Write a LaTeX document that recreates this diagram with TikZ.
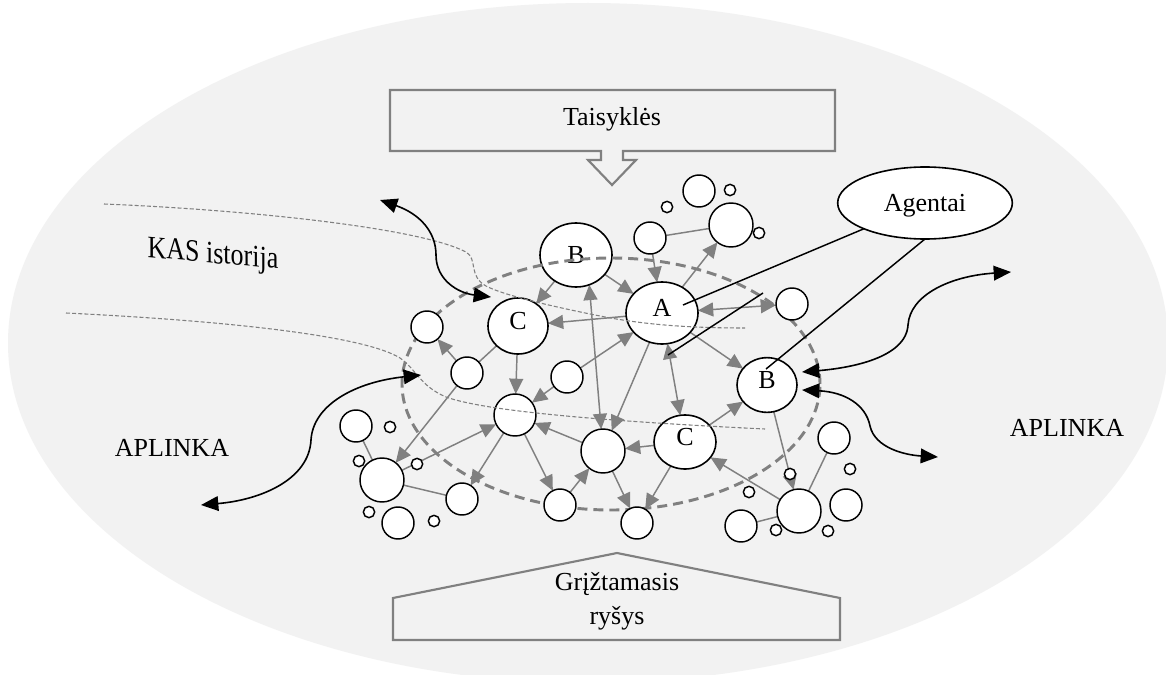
\documentclass[tikz,border=0pt]{standalone}
\usepackage{fontspec}
\setmainfont{Liberation Serif}
\usetikzlibrary{arrows.meta,shapes.geometric}
\pgfdeclarelayer{bg}
\pgfdeclarelayer{edgelayer}
\pgfdeclarelayer{labl}
\pgfdeclarelayer{ring}
\pgfdeclarelayer{fg}
\pgfsetlayers{bg,edgelayer,labl,ring,main,fg}
\definecolor{field}{HTML}{F2F2F2}
\definecolor{linkgray}{HTML}{808080}
\begin{document}
\begin{tikzpicture}[x=0.75pt,y=-0.75pt,
  txt/.style={font=\fontsize{19.5}{25.5}\selectfont, inner sep=0pt},
  agent/.style={ellipse, draw=black, fill=white, line width=1.2pt, inner sep=0pt, outer sep=0pt,
                font=\fontsize{19.5}{22}\selectfont},
  lowtxt/.style={text height=8pt, text depth=2.5pt},
  bubble/.style={circle, draw=black, fill=white, line width=1.1pt, inner sep=0pt, outer sep=0pt},
  sm/.style={bubble, minimum size=8.5pt},
  md/.style={bubble, minimum size=24pt},
  lg/.style={bubble, minimum size=33pt},
  frame/.style={draw=linkgray, line width=1.6pt, line join=miter},
  plain/.style={draw=linkgray, line width=1.1pt},
  arr/.style={plain, -{Triangle[length=11.5pt,width=10.5pt]}},
  darr/.style={plain, {Triangle[length=11.5pt,width=10.5pt]}-{Triangle[length=11.5pt,width=10.5pt]}},
  flow/.style={draw=black, line width=1.2pt, {Triangle[length=13pt,width=11pt]}-{Triangle[length=13pt,width=11pt]}},
  pointer/.style={draw=black, line width=1.1pt},
  ringline/.style={draw=linkgray, line width=2.2pt, dash pattern=on 7.5pt off 4.5pt},
  trail/.style={draw=linkgray, line width=0.8pt, dash pattern=on 3pt off 1.6pt}]
\useasboundingbox (0,0) rectangle (1166,674);

% background field and the two framing shapes
\begin{pgfonlayer}{bg}
  \fill[white] (0,0) rectangle (1166,674);
  \begin{scope}
    \clip (0,0) rectangle (1166,674);
    \fill[field] (588,343) ellipse [x radius=435pt, y radius=255pt];
  \end{scope}
  \draw[frame] (390,90) -- (835,90) -- (835,151) -- (623,151) -- (623,160) -- (636,160)
     -- (612,185) -- (588,160) -- (601,160) -- (601,151) -- (390,151) -- cycle;
  \draw[frame] (393,640) -- (393,598) -- (617,553) -- (840,598) -- (840,640) -- cycle;
\end{pgfonlayer}

% texts
\node[txt] (rules) at (612,119) {Taisyklės};
\node[txt, align=center] (feedback) at (617,601) {Grįžtamasis\\ryšys};
\node[txt] (envL) at (172,448) {APLINKA};
\node[txt] (envR) at (1067,428) {APLINKA};
\node[txt, transform shape, yslant=-0.09, yscale=1.2] (hist) at (213,256) {KAS istorija};

% labelled agents
\begin{pgfonlayer}{labl}
  \node[agent, minimum width=54pt, minimum height=48pt] (Bt) at (576,255) {B};
  \node[agent, lowtxt, minimum width=54pt, minimum height=46.5pt] (A) at (662,313) {A};
  \node[agent, lowtxt, minimum width=45pt, minimum height=42pt] (Cu) at (518,326) {C};
  \node[agent, lowtxt, minimum width=45pt, minimum height=41pt] (Br) at (767,385) {B};
  \node[agent, lowtxt, minimum width=46.5pt, minimum height=40.5pt] (Cl) at (685,442) {C};
\end{pgfonlayer}

% system boundary
\begin{pgfonlayer}{ring}
  \draw[ringline] (611,384) ellipse [x radius=156.75pt, y radius=94.5pt];
\end{pgfonlayer}

% unlabelled agents
\node[md] (m1) at (699,191) {};
\node[md] (m2) at (650,238) {};
\node[md] (m3) at (792,304) {};
\node[md] (m4) at (427,327) {};
\node[md] (m5) at (467,373) {};
\node[md] (m6) at (567,377) {};
\node[md] (m7) at (356,426) {};
\node[md] (m8) at (462,499) {};
\node[md] (m9) at (398,523) {};
\node[md] (m10) at (560,505) {};
\node[md] (m11) at (637,523) {};
\node[md] (m12) at (834,438) {};
\node[md] (m13) at (846,505) {};
\node[md] (m14) at (741,526) {};
\node[lg] (L1) at (731,225) {};
\node[lg, minimum size=31.5pt] (L2) at (515,415) {};
\node[lg] (L3) at (603,451) {};
\node[lg] (L4) at (382,480) {};
\node[lg] (L5) at (799,511) {};
\node[sm] (s1) at (730,190) {};
\node[sm] (s2) at (667,207) {};
\node[sm] (s3) at (759,233) {};
\node[sm] (s4) at (390,427) {};
\node[sm] (s5) at (359,461) {};
\node[sm] (s6) at (417,464) {};
\node[sm] (s7) at (369,512) {};
\node[sm] (s8) at (434,521) {};
\node[sm] (s9) at (790,474) {};
\node[sm] (s10) at (850,469) {};
\node[sm] (s11) at (749,492) {};
\node[sm] (s12) at (776,530) {};
\node[sm] (s13) at (828,531) {};

% interactions between agents
\begin{pgfonlayer}{edgelayer}
  \draw[arr] (Bt) -- (Cu);
  \draw[arr] (Bt) -- (A);
  \draw[darr] (Bt.-66) -- (L3);
  \draw[arr] (A) -- (Cu);
  \draw[arr] (m2) -- (A);
  \draw[arr] (A) -- (L1);
  \draw[plain] (m2) -- (L1);
  \draw[darr] (A) -- (m3);
  \draw[arr] (A) -- (Br);
  \draw[darr] (A) -- (Cl);
  \draw[arr] (A) -- (L3);
  \draw[arr] (Cl) -- (L3);
  \draw[arr] (Cl) -- (Br);
  \draw[arr] (Br) -- (L5);
  \draw[arr] (L5) -- (Cl);
  \draw[plain] (L5) -- (m12);
  \draw[plain] (L5) -- (m14);
  \draw[arr] (Cl) -- (m11);
  \draw[arr] (L3) -- (m11);
  \draw[arr] (m10) -- (L3);
  \draw[arr] (L3) -- (L2);
  \draw[arr] (L2) -- (m10);
  \draw[arr] (L2) -- (m8);
  \draw[arr] (L4) -- (L2);
  \draw[arr] (m5) -- (L4);
  \draw[arr] (m5) -- (m4);
  \draw[plain] (m5) -- (Cu);
  \draw[arr] (Cu) -- (L2);
  \draw[arr] (m6) -- (L2);
  \draw[arr] (m6) -- (A);
  \draw[plain] (L4) -- (m7);
  \draw[plain] (L4) -- (m8);
\end{pgfonlayer}

\begin{pgfonlayer}{fg}
  % history trails
  \draw[trail] (104,204) .. controls (250,210) and (420,228) .. (466,252)
     .. controls (478,259) and (468,276) .. (486,286)
     .. controls (505,296) and (560,308) .. (600,316)
     .. controls (650,326) and (700,328) .. (745,328);
  \draw[trail] (66,313) .. controls (250,322) and (368,338) .. (400,358)
     .. controls (416,369) and (420,386) .. (446,397)
     .. controls (485,411) and (600,421) .. (765,429);

  % agents pointer
  \node[agent, text depth=0pt, minimum width=131pt, minimum height=54pt] (ag) at (925,203) {Agentai};
  \coordinate (aIn) at (683,305);
  \coordinate (bIn) at (766,369);
  \coordinate (f1) at (763,293);
  \coordinate (f2) at (668,355);
  \draw[pointer] (ag) -- (aIn);
  \draw[pointer] (ag.south) -- (bIn);
  \draw[pointer] (f1) -- (f2);

  % exchanges with the environment
  \coordinate (h1a) at (380,200);
  \coordinate (h1b) at (491,297);
  \coordinate (h2a) at (421,375);
  \coordinate (h2b) at (201,505);
  \coordinate (h3a) at (1011,272);
  \coordinate (h3b) at (802,372);
  \coordinate (h4a) at (802,390);
  \coordinate (h4b) at (938,457);
  \draw[flow] (h1a) .. controls (420,214) and (436,232) .. (436,255)
     .. controls (436,280) and (458,293) .. (h1b);
  \draw[flow] (h2a) .. controls (355,382) and (313,405) .. (311,440)
     .. controls (309,480) and (260,500) .. (h2b);
  \draw[flow] (h3a) .. controls (950,276) and (910,295) .. (908,325)
     .. controls (906,358) and (850,368) .. (h3b);
  \draw[flow] (h4a) .. controls (845,392) and (866,405) .. (870,426)
     .. controls (875,448) and (905,455) .. (h4b);
\end{pgfonlayer}
\end{tikzpicture}
\end{document}
